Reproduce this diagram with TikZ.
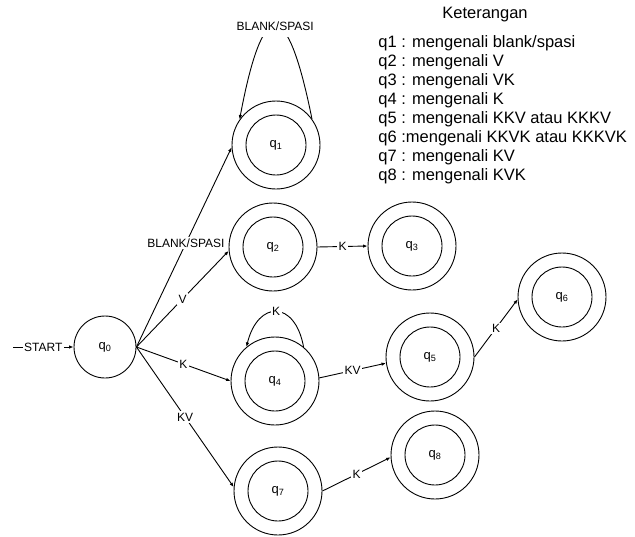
\documentclass[tikz,border=0pt]{standalone}
\usepackage{fontspec}
\setmainfont{Liberation Sans}
\usetikzlibrary{arrows.meta}
\begin{document}
\begin{tikzpicture}[x=1pt,y=-1pt,
  line width=0.9pt,
  startstate/.style={circle,draw,minimum size=62pt,inner sep=0pt,font=\fontsize{13}{15}\selectfont},
  accstate/.style={circle,draw,minimum size=88pt,inner sep=0pt,font=\fontsize{13}{15}\selectfont},
  arr/.style={-{Latex[length=4.5pt,width=3.5pt]}},
  lbl/.style={fill=white,inner sep=1.5pt,font=\fontsize{12}{14}\selectfont},
  legend/.style={anchor=west,inner sep=0pt,font=\fontsize{16.5}{19}\selectfont}]
\useasboundingbox (0,0) rectangle (635,536);

% states
\node[startstate] (q0) at (105,347) {q\textsubscript{0}};
\node[accstate] (q1) at (276,145) {q\textsubscript{1}};
\node[accstate] (q2) at (273,247) {q\textsubscript{2}};
\node[accstate] (q3) at (412,246) {q\textsubscript{3}};
\node[accstate] (q4) at (275,381) {q\textsubscript{4}};
\node[accstate] (q5) at (430,357) {q\textsubscript{5}};
\node[accstate] (q6) at (562,297) {q\textsubscript{6}};
\node[accstate] (q7) at (278,491) {q\textsubscript{7}};
\node[accstate] (q8) at (435,455) {q\textsubscript{8}};

% inner rings of the accepting states
\foreach \s in {q1,q2,q3,q4,q5,q6,q7,q8}
  \draw (\s.center) circle (30pt);

% start arrow
\coordinate (s0) at (13,347);
\draw[arr] (s0) -- node[lbl]{START} (q0.west);

% transitions from q0
\draw[arr] (q0.east) -- node[lbl,pos=0.52]{BLANK/SPASI} (q1.183);
\draw[arr] (q0.east) -- node[lbl]{V} (q2.185);
\draw[arr] (q0.east) -- node[lbl]{K} (q4.180);
\draw[arr] (q0.east) -- node[lbl]{KV} (q7.175);

% self loops
\draw[arr] (q1.36) .. controls (287,-5) and (263,-5) .. node[lbl,inner xsep=3pt,inner ysep=7pt]{BLANK/SPASI} (q1.145);
\draw[arr] (q4.50) .. controls (295,300) and (258,300) .. node[lbl]{K} (q4.130);

% remaining transitions
\draw[arr] (q2.east) -- node[lbl]{K} (q3.west);
\draw[arr] (q4.4) -- node[lbl]{KV} (q5.188);
\draw[arr] (q5.east) -- node[lbl]{K} (q6.183);
\draw[arr] (q7.east) -- node[lbl]{K} (q8.183);

% legend
\node[font=\fontsize{16.5}{19}\selectfont] (kt) at (485,15) {Keterangan};
\node[legend] (l1) at (378,43) {q1 : mengenali blank/spasi};
\node[legend] (l2) at (378,62) {q2 : mengenali V};
\node[legend] (l3) at (378,81) {q3 : mengenali VK};
\node[legend] (l4) at (378,100) {q4 : mengenali K};
\node[legend] (l5) at (378,119) {q5 : mengenali KKV atau KKKV};
\node[legend] (l6) at (378,138) {q6 :mengenali KKVK atau KKKVK};
\node[legend] (l7) at (378,157) {q7 : mengenali KV};
\node[legend] (l8) at (378,176) {q8 : mengenali KVK};
\end{tikzpicture}
\end{document}
